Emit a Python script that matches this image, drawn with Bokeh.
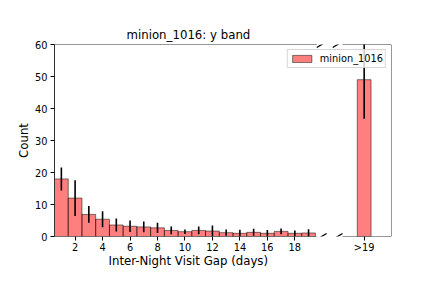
from bokeh.plotting import figure
from bokeh.models import (ColumnDataSource, Range1d, FixedTicker, CustomJSTickFormatter,
                          Arrow, Legend, LegendItem, Title)
from bokeh.embed import file_html
from bokeh.resources import INLINE

# ---- data ----
gap_days = list(range(1, 20))
counts = [18.0, 12.0, 6.9, 5.4, 3.6, 3.2, 3.0, 2.7, 1.9, 1.5,
          1.9, 1.7, 1.2, 1.0, 1.3, 1.0, 1.6, 1.0, 1.1]
errors = [3.6, 5.6, 2.6, 2.5, 2.0, 1.8, 1.7, 1.6, 1.2, 0.7,
          1.2, 1.7, 1.0, 1.1, 1.1, 1.0, 0.9, 0.9, 1.2]
overflow_label = ">19"
overflow_count = [49.0]
overflow_error = [12.2]
x_tick_values = [2, 4, 6, 8, 10, 12, 14, 16, 18]
x_tick_labels = ["2", "4", "6", "8", "10", "12", "14", "16", "18"]
y_tick_values = [0, 10, 20, 30, 40, 50, 60]
series_name = "minion_1016"

# ---- layout constants (broken axis emulation) ----
X_START = 0.5
X_END = 25.04        # right edge of right panel
BREAK_L = 19.6       # end of left panel
BREAK_R = 21.47      # start of right panel
OVER_X = 23.05       # position of overflow bar
Y_MAX = 60
SL_DX = 0.71
SL_DY = 1.9

FONT = "DejaVu Sans"

p = figure(width=410, height=274, output_backend="svg", toolbar_location=None,
           x_range=Range1d(X_START, X_END), y_range=Range1d(0, Y_MAX),
           min_border_left=54, min_border_right=19, min_border_top=44, min_border_bottom=38)
p.outline_line_color = None
p.grid.visible = False

title = Title(text="minion_1016: y band", align="left", offset=72,
              text_font=FONT, text_font_size="11.75px", text_font_style="normal",
              text_color="black", standoff=5)
p.title = title

src = ColumnDataSource(dict(x=gap_days, top=counts,
                            lo=[c - e for c, e in zip(counts, errors)],
                            hi=[c + e for c, e in zip(counts, errors)]))
osrc = ColumnDataSource(dict(x=[OVER_X], top=overflow_count,
                             lo=[c - e for c, e in zip(overflow_count, overflow_error)],
                             hi=[c + e for c, e in zip(overflow_count, overflow_error)]))

bar_style = dict(width=1, bottom=0, fill_color="red", fill_alpha=0.5,
                 line_color="black", line_alpha=0.5, line_width=1)
bars = p.vbar(x="x", top="top", source=src, **bar_style)
p.vbar(x="x", top="top", source=osrc, **bar_style)
p.segment(x0="x", x1="x", y0="lo", y1="hi", source=src, line_color="black", line_width=1.6)
p.segment(x0="x", x1="x", y0="lo", y1="hi", source=osrc, line_color="black", line_width=1.6)

# axes
xa = p.xaxis[0]
xa.ticker = FixedTicker(ticks=x_tick_values + [OVER_X])
xa.formatter = CustomJSTickFormatter(args=dict(labels=x_tick_labels + [overflow_label]),
                                     code="return labels[index];")
xa.axis_line_color = None
ya = p.yaxis[0]
ya.ticker = FixedTicker(ticks=y_tick_values)
ya.axis_line_color = "#333333"
ya.axis_line_width = 1
ya.axis_label = "Count"
for ax in (xa, ya):
    ax.minor_tick_line_color = None
    ax.major_tick_out = 4
    ax.major_tick_in = 0
    ax.major_tick_line_color = "black"
    ax.major_label_standoff = 3
    ax.major_label_text_font = FONT
    ax.major_label_text_font_size = "9.8px"
    ax.major_label_text_color = "black"
    ax.axis_label_text_font = FONT
    ax.axis_label_text_font_size = "11.75px"
    ax.axis_label_text_font_style = "normal"
    ax.axis_label_text_color = "black"
    ax.axis_label_standoff = 5
xa.major_label_standoff = 1
ya.axis_label_standoff = 1

xlabel = Title(text="Inter-Night Visit Gap (days)", align="left", offset=54,
               vertical_align="top",
               text_font=FONT, text_font_size="11.75px", text_font_style="normal",
               text_color="black", standoff=-4)
p.add_layout(xlabel, "below")

# spines
spine = dict(end=None, line_color="#333333", line_width=1)
p.add_layout(Arrow(x_start=X_START, y_start=Y_MAX, x_end=BREAK_L, y_end=Y_MAX, **spine))
p.add_layout(Arrow(x_start=X_START, y_start=0, x_end=BREAK_L, y_end=0, **spine))
p.add_layout(Arrow(x_start=BREAK_R, y_start=Y_MAX, x_end=X_END, y_end=Y_MAX, **spine))
p.add_layout(Arrow(x_start=BREAK_R, y_start=0, x_end=X_END, y_end=0, **spine))
p.add_layout(Arrow(x_start=X_END, y_start=0, x_end=X_END, y_end=Y_MAX, **spine))

# break marks
slash = dict(end=None, line_color="black", line_width=1.3)
for yb in (0, Y_MAX):
    p.add_layout(Arrow(x_start=BREAK_L, y_start=yb - SL_DY / 2, x_end=BREAK_L + SL_DX, y_end=yb + SL_DY / 2, **slash))
    p.add_layout(Arrow(x_start=BREAK_R - SL_DX, y_start=yb - SL_DY / 2, x_end=BREAK_R, y_end=yb + SL_DY / 2, **slash))

legend = Legend(items=[LegendItem(label=series_name, renderers=[bars])],
                location="top_right", margin=5, padding=2,
                glyph_width=24, glyph_height=9, label_height=13, label_standoff=6,
                label_text_font=FONT, label_text_font_size="9.8px", label_text_color="black",
                border_line_color="#cccccc", border_line_alpha=0.8,
                background_fill_color="white", background_fill_alpha=0.8)
p.add_layout(legend)

open("out.html", "w").write(file_html(p, INLINE))
